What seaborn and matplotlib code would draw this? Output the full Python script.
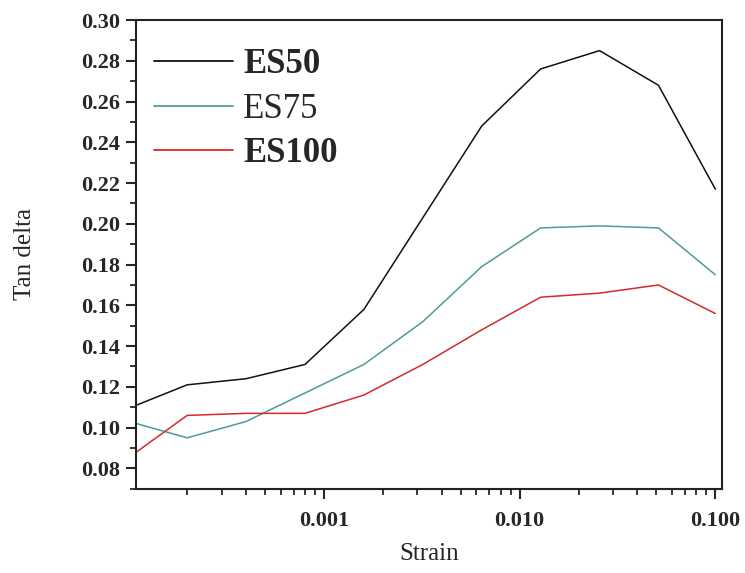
import matplotlib
matplotlib.use("Agg")
import matplotlib.pyplot as plt
import matplotlib.ticker as mticker
import numpy as np
import pandas as pd
import seaborn as sns

# values
strain = [1.1e-4, 2e-4, 4e-4, 8e-4, 1.6e-3, 3.2e-3, 6.4e-3, 1.28e-2, 2.56e-2, 5.12e-2, 0.1]
es50 = [0.111, 0.121, 0.124, 0.131, 0.158, 0.203, 0.248, 0.276, 0.285, 0.268, 0.217]
es75 = [0.102, 0.095, 0.103, 0.117, 0.131, 0.152, 0.179, 0.198, 0.199, 0.198, 0.175]
es100 = [0.088, 0.106, 0.107, 0.107, 0.116, 0.131, 0.148, 0.164, 0.166, 0.170, 0.156]
names = ["ES50", "ES75", "ES100"]
colors = ["#111111", "#4f9a9a", "#d42a2a"]

df = pd.DataFrame({
    "Strain": strain * 3,
    "Tan delta": es50 + es75 + es100,
    "sample": [n for n in names for _ in strain],
})

sns.set_style("ticks")
plt.rcParams["font.family"] = ["Liberation Serif", "DejaVu Serif"]

fig = plt.figure(figsize=(7.45, 5.73), dpi=100)
ax = fig.add_axes([0.183, 0.147, 0.786, 0.818])

sns.lineplot(data=df, x="Strain", y="Tan delta", hue="sample",
             palette=dict(zip(names, colors)), linewidth=1.1, ax=ax, sort=False)

ax.set_xscale("log")
ax.set_xlim(1.1e-4, 0.108)
ax.set_ylim(0.07, 0.30)

ax.xaxis.set_major_locator(mticker.FixedLocator([0.001, 0.01, 0.1]))
ax.xaxis.set_major_formatter(mticker.FormatStrFormatter("%.3f"))
ax.xaxis.set_minor_locator(mticker.LogLocator(base=10, subs=np.arange(2, 10)))
ax.xaxis.set_minor_formatter(mticker.NullFormatter())
ax.yaxis.set_minor_locator(mticker.MultipleLocator(0.01))
ax.yaxis.set_major_formatter(mticker.FormatStrFormatter("%.2f"))
ax.set_yticks([0.08 + 0.02 * i for i in range(12)])

ax.tick_params(axis="both", which="major", direction="out", length=7, width=1.5,
               labelsize=16, pad=5)
ax.tick_params(axis="x", which="major", pad=9)
ax.tick_params(axis="both", which="minor", direction="out", length=4, width=1.3)
for lab in ax.get_xticklabels() + ax.get_yticklabels():
    lab.set_fontweight("bold")

for s in ax.spines.values():
    s.set_linewidth(1.5)
    s.set_color("#222222")

ax.set_xlabel("Strain", fontsize=18, labelpad=9)
ax.set_ylabel("Tan delta", fontsize=18, labelpad=32)

leg = ax.legend(loc="upper left", bbox_to_anchor=(-0.024, 1.006), frameon=False,
                fontsize=25, handlelength=2.3, handletextpad=0.28,
                labelspacing=0.33, borderaxespad=0.5)
for t, w in zip(leg.get_texts(), ["bold", "normal", "bold"]):
    t.set_fontweight(w)
for h in leg.get_lines():
    h.set_linewidth(1.3)

fig.savefig("out.png", dpi=100, facecolor="white")
